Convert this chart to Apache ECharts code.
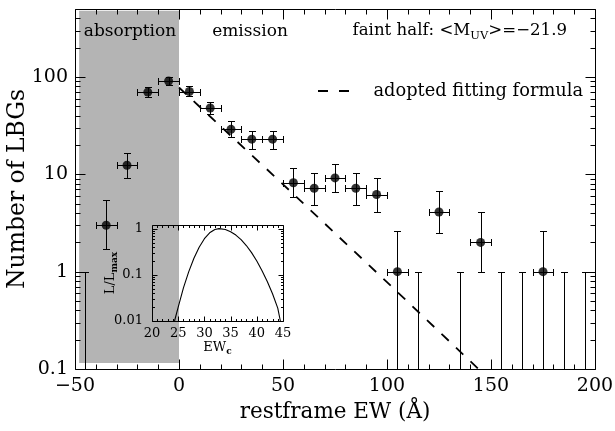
<!DOCTYPE html>
<html><head><meta charset="utf-8">
<script src="https://cdn.jsdelivr.net/npm/echarts@6/dist/echarts.min.js"></script>
<style>html,body{margin:0;padding:0;background:#fff}#c{width:615px;height:431px}</style>
</head><body><div id="c"></div>
<script>
// ---------- data ----------
const ewBins  = [-45,-35,-25,-15,-5,5,15,25,35,45,55,65,75,85,95,105,115,125,135,145,155,165,175,185,195];
const counts  = [0,3.0,12.4,70,91,71,48,29,23,23,8.2,7.2,9.2,7.2,6.2,1,0,4.1,0,2.0,0,0,1,0,0];
const errHigh = [1,5.5,16.5,79,101,80,56,35,28,28,11.6,10.4,12.8,10.4,9.2,2.63,1,6.7,1,4.1,1,1,2.63,1,1];
const errLow  = [0,1.73,9.2,62,83,64,41.5,24.4,18.4,18.4,5.8,4.9,6.6,4.9,4.1,0,0,2.5,0,1.0,0,0,0,0,0];
const binHalfWidth = 5;
const fitEW = [0,50,100,144];
const fitN  = [78,7.9,0.78,0.1];
const absorptionEW = [-48,0];
const absorptionN  = [0.115,480];
const insetEW = [24.3,25,26,27,28,29,30,31,32,32.8,34,35,36,37,38,39,40,41,42,43,44,44.5];
const insetL  = [0.01,0.02,0.052,0.116,0.229,0.397,0.606,0.813,0.96,1.0,0.956,0.86,0.727,0.578,0.431,0.303,0.199,0.123,0.072,0.039,0.019,0.01];
const xMajorTicks = [-50,0,50,100,150,200];
const xMinorTicks = [-40,-30,-20,-10,10,20,30,40,60,70,80,90,110,120,130,140,160,170,180,190];
const yMajorTicks = [0.1,1,10,100];
const yMinorTicks = [0.2,0.3,0.4,0.5,0.6,0.7,0.8,0.9,2,3,4,5,6,7,8,9,20,30,40,50,60,70,80,90,200,300,400,500];
const insetXMajor = [20,25,30,35,40,45];
const insetXMinor = [21,22,23,24,26,27,28,29,31,32,33,34,36,37,38,39,41,42,43,44];
const insetYMajor = [0.01,0.1,1];
const insetYMinor = [0.02,0.03,0.04,0.05,0.06,0.07,0.08,0.09,0.2,0.3,0.4,0.5,0.6,0.7,0.8,0.9];

// ---------- helpers ----------
const FONT = '"DejaVu Serif", serif';
const r = v => Math.round(v) + 0.5;
const fmtNum = v => String(v).replace('-', '\u2212');
const fmtLog = v => { const l = Math.log10(v); if (Math.abs(l - Math.round(l)) > 1e-6) return ''; const k = Math.round(l); return k < 0 ? Math.pow(10,k).toFixed(-k) : String(Math.pow(10,k)); };
const ln = (x1,y1,x2,y2,w) => ({type:'line', shape:{x1,y1,x2,y2}, style:{stroke:'#000', lineWidth:w||1}});

function tickRenderer(o) {
  return function(params, api) {
    const cs = params.coordSys;
    const L = r(cs.x), R = r(cs.x + cs.width), T = r(cs.y), B = r(cs.y + cs.height);
    const ch = [];
    ch.push({type:'rect', shape:{x:L, y:T, width:R-L, height:B-T}, style:{fill:null, stroke:'#000', lineWidth:1}});
    const xt = (v, len) => { const px = r(api.coord([v, o.yRef])[0]); ch.push(ln(px,B,px,B-len)); ch.push(ln(px,T,px,T+len)); };
    const yt = (v, len) => { const py = r(api.coord([o.xRef, v])[1]); ch.push(ln(L,py,L+len,py)); ch.push(ln(R,py,R-len,py)); };
    o.xMajor.forEach(v => xt(v, o.major));
    o.xMinor.forEach(v => xt(v, o.minor));
    o.yMajor.forEach(v => yt(v, o.major));
    o.yMinor.forEach(v => yt(v, o.minor));
    return {type:'group', children: ch};
  };
}

function renderErr(params, api) {
  const cs = params.coordSys;
  const x = api.value(0), n = api.value(1), lo = api.value(2), hi = api.value(3);
  const bottom = cs.y + cs.height;
  const px = r(api.coord([x, hi])[0]);
  const pyHi = r(api.coord([x, hi])[1]);
  const pyLo = lo > 0 ? r(api.coord([x, lo])[1]) : bottom;
  const ch = [ln(px, pyHi, px, pyLo), ln(px-3.5, pyHi, px+3.5, pyHi)];
  if (lo > 0) ch.push(ln(px-3.5, pyLo, px+3.5, pyLo));
  if (n > 0) {
    const py = r(api.coord([x, n])[1]);
    const xl = r(api.coord([x - binHalfWidth, n])[0]);
    const xr = r(api.coord([x + binHalfWidth, n])[0]);
    ch.push(ln(xl, py, xr, py), ln(xl, py-3.5, xl, py+3.5), ln(xr, py-3.5, xr, py+3.5));
  }
  return {type:'group', children: ch};
}

function renderBand(params, api) {
  const p0 = api.coord([absorptionEW[0], absorptionN[1]]);
  const p1 = api.coord([absorptionEW[1], absorptionN[0]]);
  return {type:'rect', shape:{x:p0[0], y:p0[1], width:p1[0]-p0[0], height:p1[1]-p0[1]}, style:{fill:'#b4b4b4'}};
}

// text measurement for composed labels
const cv = document.createElement('canvas').getContext('2d');
const tw = (t, font) => { cv.font = font; return cv.measureText(t).width; };

const chart = echarts.init(document.getElementById('c'));

// "faint half: <M_UV>=-21.9" right aligned at 567
const A1 = 'faint half: <M', A2 = 'UV', A3 = '>=\u221221.9';
const aF = '16.6px ' + FONT, sF = '11.5px ' + FONT;
const aRight = 567, aY = 31;
const w1 = tw(A1, aF), w2 = tw(A2, sF), w3 = tw(A3, aF);
const aX = aRight - (w1 + w2 + w3);

const txt = (text, x, y, font, align) => ({type:'text', x, y, z:100, style:{text, font, fill:'#000', textAlign: align || 'left', textVerticalAlign:'middle', align: align || 'left', verticalAlign:'middle'}});

// inset labels
const iF = '13px ' + FONT, iS = 'bold 9px ' + FONT;
const lW1 = tw('L/L', iF), lW2 = tw('max', iS);
const eW1 = tw('EW', iF), eW2 = tw('c', iS);

chart.setOption({
  animation: false,
  backgroundColor: '#fff',
  grid: [
    {left:75, top:9, width:520, height:360, show:false, containLabel:false, outerBoundsMode:'none'},
    {left:152, top:225, width:131, height:96, show:false, containLabel:false, outerBoundsMode:'none'}
  ],
  xAxis: [
    {gridIndex:0, type:'value', min:-50, max:200, interval:50, z:10,
     axisLine:{show:false}, axisTick:{show:false}, splitLine:{show:false},
     axisLabel:{fontFamily:FONT, fontSize:19, color:'#000', margin:8, formatter: fmtNum},
     name:'restframe EW (\u00C5)', nameLocation:'middle', nameGap:32,
     nameTextStyle:{fontFamily:FONT, fontSize:21.5, color:'#000'}},
    {gridIndex:1, type:'value', min:20, max:45, interval:5, z:10,
     axisLine:{show:false}, axisTick:{show:false}, splitLine:{show:false},
     axisLabel:{fontFamily:FONT, fontSize:13, color:'#000', margin:6}}
  ],
  yAxis: [
    {gridIndex:0, type:'log', logBase:10, min:0.1, max:500, z:10,
     axisLine:{show:false}, axisTick:{show:false}, splitLine:{show:false}, minorSplitLine:{show:false},
     axisLabel:{fontFamily:FONT, fontSize:19, color:'#000', margin:7, formatter: fmtLog, showMaxLabel:false}},
    {gridIndex:1, type:'log', logBase:10, min:0.01, max:1.2, z:10,
     axisLine:{show:false}, axisTick:{show:false}, splitLine:{show:false},
     axisLabel:{fontFamily:FONT, fontSize:13, color:'#000', margin:9, formatter: fmtLog, showMaxLabel:false}}
  ],
  series: [
    {type:'custom', xAxisIndex:0, yAxisIndex:0, z:1, silent:true, renderItem: renderBand, data:[[absorptionEW[0], absorptionN[0]]]},
    {type:'custom', xAxisIndex:0, yAxisIndex:0, z:3, silent:true,
     renderItem: tickRenderer({xMajor:xMajorTicks, xMinor:xMinorTicks, yMajor:yMajorTicks, yMinor:yMinorTicks, major:10, minor:5, xRef:0, yRef:1}),
     data:[[0,1]]},
    {type:'line', xAxisIndex:0, yAxisIndex:0, z:4, silent:true, symbol:'none', clip:true,
     data: fitEW.map((e,i)=>[e, fitN[i]]),
     lineStyle:{color:'#000', width:1.8, type:[10,10]}},
    {type:'custom', xAxisIndex:0, yAxisIndex:0, z:5, silent:true, renderItem: renderErr,
     encode:{x:0, y:3},
     data: ewBins.map((e,i)=>[e, counts[i], errLow[i], errHigh[i]])},
    {type:'scatter', xAxisIndex:0, yAxisIndex:0, z:6, silent:true, symbol:'circle', symbolSize:9,
     itemStyle:{color:'#000'},
     data: ewBins.map((e,i)=>[e, counts[i]]).filter(d => d[1] > 0)},
    // inset
    {type:'custom', xAxisIndex:1, yAxisIndex:1, z:7, silent:true,
     renderItem: tickRenderer({xMajor:insetXMajor, xMinor:insetXMinor, yMajor:insetYMajor, yMinor:insetYMinor, major:5, minor:2.5, xRef:30, yRef:0.1}),
     data:[[30,0.1]]},
    {type:'line', xAxisIndex:1, yAxisIndex:1, z:8, silent:true, symbol:'none', clip:true,
     data: insetEW.map((e,i)=>[e, insetL[i]]),
     lineStyle:{color:'#000', width:1.1}}
  ],
  graphic: [
    {type:'text', x:18, y:189, rotation: Math.PI/2, z:100, style:{text:'Number of LBGs', font:'23.5px ' + FONT, fill:'#000', textAlign:'center', textVerticalAlign:'middle', align:'center', verticalAlign:'middle'}},
    txt('absorption', 130, 32, '17px ' + FONT, 'center'),
    txt('emission', 250, 32, '17px ' + FONT, 'center'),
    txt(A1, aX, aY, aF, 'left'),
    txt(A2, aX + w1, aY + 5, sF, 'left'),
    txt(A3, aX + w1 + w2, aY, aF, 'left'),
    {type:'line', z:100, shape:{x1:318, y1:91, x2:349, y2:91}, style:{stroke:'#000', lineWidth:1.8, lineDash:[10,11]}},
    txt('adopted fitting formula', 583, 91, '17.8px ' + FONT, 'right'),
    {type:'group', x:111, y:273, rotation: Math.PI/2, z:100, children:[
      {type:'text', z:100, x: -(lW1+lW2)/2, y:0, style:{text:'L/L', font:iF, fill:'#000', textAlign:'left', textVerticalAlign:'middle', align:'left', verticalAlign:'middle'}},
      {type:'text', z:100, x: -(lW1+lW2)/2 + lW1, y:4, style:{text:'max', font:iS, fill:'#000', textAlign:'left', textVerticalAlign:'middle', align:'left', verticalAlign:'middle'}}
    ]},
    txt('EW', 217.5 - (eW1+eW2)/2, 348, iF, 'left'),
    txt('c', 217.5 - (eW1+eW2)/2 + eW1, 352, iS, 'left')
  ]
});
</script></body></html>
